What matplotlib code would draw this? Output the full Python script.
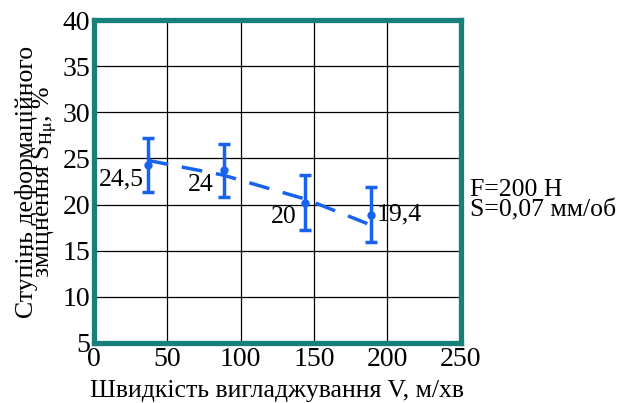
import matplotlib.pyplot as plt

# дані з графіка
v = [36.5, 88.5, 144, 188.5]
s_h = [24.3, 23.75, 20.15, 18.9]
err_up = [27.2, 26.6, 23.2, 21.9]
err_dn = [21.4, 20.8, 17.25, 16.0]
labels = ["24,5", "24", "20", "19,4"]

# тренд (пунктир)
trend_v = [36.5, 59, 88, 118, 144, 168, 188.5]
trend_s = [24.8, 24.1, 23.2, 21.8, 20.6, 19.1, 17.8]

plt.rcParams["font.family"] = ["Liberation Serif", "DejaVu Serif"]
plt.rcParams["mathtext.fontset"] = "stix"

blue = "#1763f0"
teal = "#16807a"

fig = plt.figure(figsize=(6.32, 4.03), dpi=100)
ax = fig.add_axes([0.149, 0.149, 0.580, 0.801])

yerr = [[s - d for s, d in zip(s_h, err_dn)], [u - s for s, u in zip(s_h, err_up)]]
ax.errorbar(v, s_h, yerr=yerr, fmt="o", color=blue, ms=5, elinewidth=2.5,
            capsize=4, capthick=2.5, zorder=4)
ax.plot(trend_v, trend_s, "--", color=blue, lw=2.5, dashes=(6, 4), zorder=3)

# зсуви підписів (пункти)
offs = [(-2.7, -10.8), (-7.4, -10.8), (-6, -9.9), (4.5, 0)]
for x, y, t, (dx, dy) in zip(v, s_h, labels, offs):
    ha = "left" if dx > 0 else "right"
    ax.annotate(t, (x, y), xytext=(dx, dy), textcoords="offset points",
                ha=ha, va="center", fontsize=18.5)

ax.set_xlim(0, 250)
ax.set_ylim(5, 40)
ax.set_xticks(range(0, 251, 50))
ax.set_yticks(range(5, 41, 5))
ax.grid(True, color="black", lw=0.9)
ax.tick_params(length=0, labelsize=20, pad=3)
for sp in ax.spines.values():
    sp.set_color(teal)
    sp.set_linewidth(3.8)

ax.set_xlabel("Швидкість вигладжування V, м/хв", fontsize=18.5, labelpad=6)
ax.set_ylabel("Ступінь деформаційного\nзміцнення S$_{\\rm H\\mu}$, %",
              fontsize=18.5, labelpad=2, linespacing=0.65)

fig.text(0.744, 0.503, "F=200 H\nS=0,07 мм/об", fontsize=18.5, va="center",
         linespacing=0.95)

fig.savefig("out.png", dpi=100)
